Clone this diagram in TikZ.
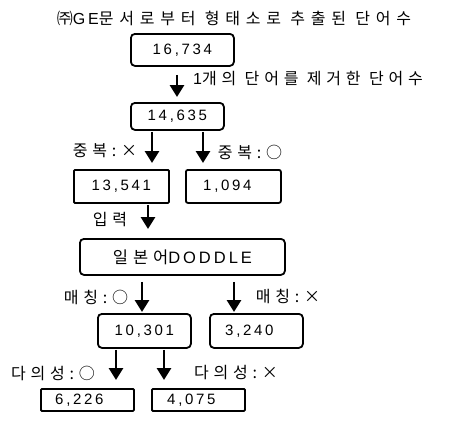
\documentclass[tikz,border=0pt]{standalone}
\usepackage{fontspec}
\setmainfont{Liberation Sans}[LetterSpace=18]
\newfontfamily\cjk{Noto Sans CJK KR}[LetterSpace=30]
\newfontfamily\cjkt{Noto Sans CJK KR}[LetterSpace=36]
\usetikzlibrary{arrows.meta,calc}
\begin{document}
\begin{tikzpicture}[x=1pt,y=-1pt,
  box/.style={draw,line width=1.8pt,rounded corners=4pt,anchor=north west,inner sep=0pt,
    font=\fontsize{15}{17}\selectfont},
  sbox/.style={box,rounded corners=1pt},
  lab/.style={inner sep=0pt,font=\fontsize{16}{18}\selectfont\cjk},
  arr/.style={line width=2.8pt,-{Triangle[length=12pt,width=14pt]}}]
\useasboundingbox (0,0) rectangle (451,421);
% boxes
\node[box,minimum width=103pt,minimum height=32pt] (n1) at (130,33) {16,734};
\node[box,minimum width=93pt,minimum height=27pt] (n2) at (130,102) {14,635};
\node[sbox,minimum width=95pt,minimum height=33pt] (n3) at (73,169) {13,541};
\node[box,rounded corners=2pt,minimum width=95pt,minimum height=33pt] (n4) at (185,169) {1,094\hspace*{12pt}};
\node[box,minimum width=205pt,minimum height=36pt,font=\fontsize{16.5}{18}\selectfont] (n5) at (79,238) {{\cjk 일본어}DODDLE};
\node[box,minimum width=93pt,minimum height=34pt] (n6) at (97,313) {10,301};
\node[box,minimum width=93pt,minimum height=34pt] (n7) at (209,313) {3,240\hspace*{14pt}};
\node[sbox,minimum width=93pt,minimum height=22pt] (n8) at (40,388) {6,226\hspace*{16pt}};
\node[sbox,minimum width=93pt,minimum height=22pt] (n9) at (151,388) {4,075\hspace*{14pt}};
% labels
\node[lab,font=\fontsize{16}{18}\selectfont\cjkt] (t0) at (234,18) {㈜{\rmfamily GE}문서로부터 형태소로 추출된 단어수};
\node[lab] (t1) at (308,79) {{\rmfamily 1}개의 단어를 제거한 단어수};
\node[lab] (t2) at (105,151) {중복:×};
\node[lab] (t3) at (250,152) {중복:○};
\node[lab] (t4) at (110,220) {입력};
\node[lab] (t5) at (96,297) {매칭:○};
\node[lab] (t6) at (288,297) {매칭:×};
\node[lab] (t7) at (53,373) {다의성:○};
\node[lab] (t8) at (236,373) {다의성:×};
% arrow x positions
\coordinate (a1) at (177,0);
\coordinate (a2) at (152,0);
\coordinate (a3) at (203,0);
\coordinate (a4) at (148,0);
\coordinate (a5) at (142,0);
\coordinate (a6) at (234,0);
\coordinate (a7) at (116,0);
\coordinate (a8) at (164,0);
% arrows
\draw[arr,shorten <=8pt,shorten >=5pt] (n1.south -| a1) -- (n2.north -| a1);
\draw[arr,shorten <=1pt,shorten >=6pt] (n2.south -| a2) -- (n3.north -| a2);
\draw[arr,shorten <=1pt,shorten >=6pt] (n2.south -| a3) -- (n4.north -| a3);
\draw[arr,shorten <=1pt,shorten >=9pt] (n3.south -| a4) -- (n5.north -| a4);
\draw[arr,shorten <=6pt,shorten >=1pt] (n5.south -| a5) -- (n6.north -| a5);
\draw[arr,shorten <=6pt,shorten >=1pt] (n5.south -| a6) -- (n7.north -| a6);
\draw[arr,shorten <=1pt,shorten >=8pt] (n6.south -| a7) -- (n8.north -| a7);
\draw[arr,shorten <=1pt,shorten >=8pt] (n6.south -| a8) -- (n9.north -| a8);
\end{tikzpicture}
\end{document}
